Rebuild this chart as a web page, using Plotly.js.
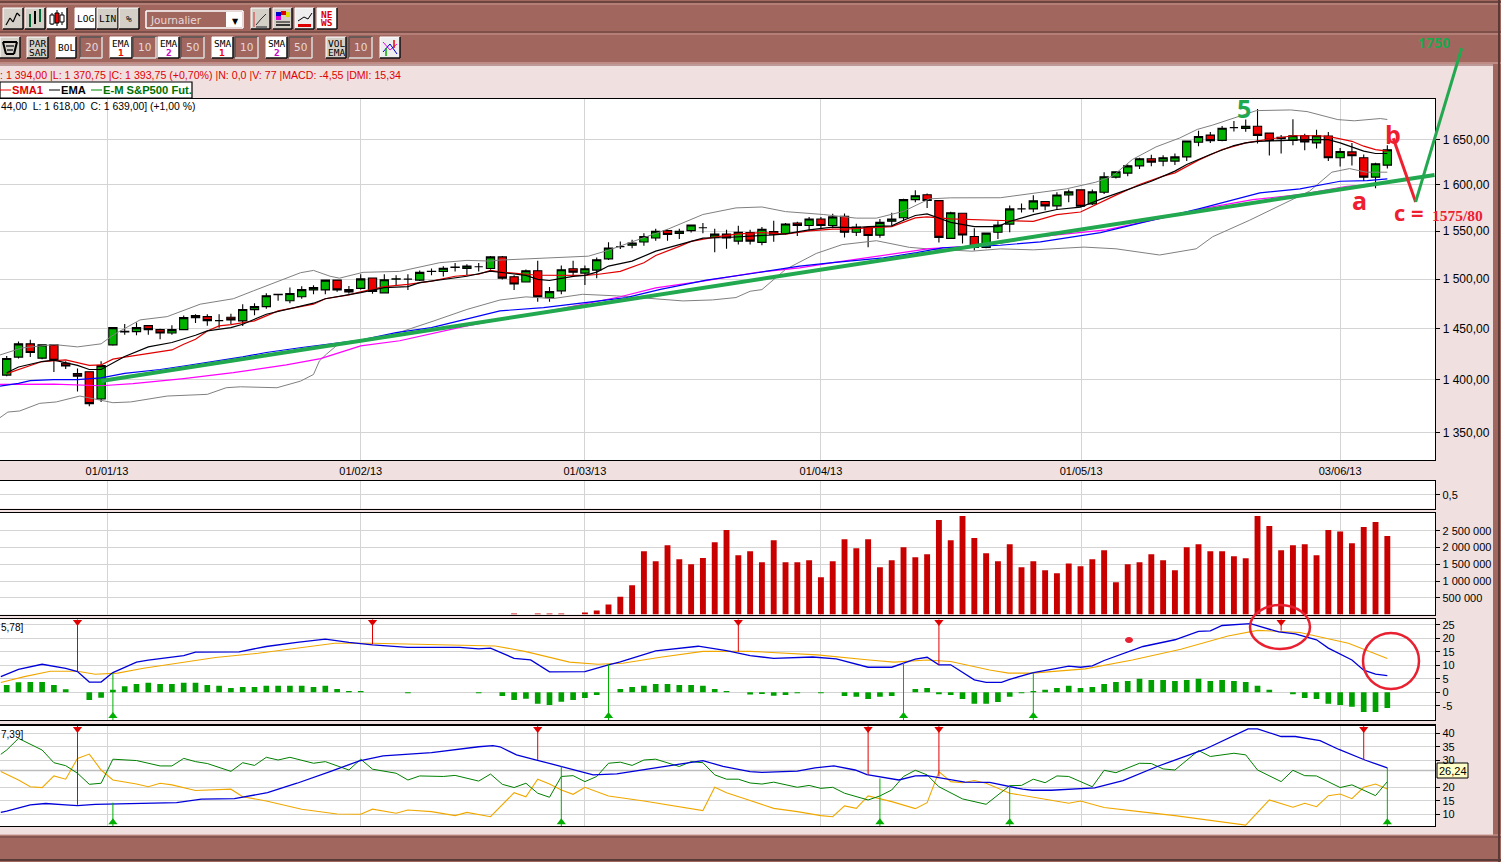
<!DOCTYPE html>
<html><head><meta charset="utf-8">
<script src="https://cdn.plot.ly/plotly-3.0.1.min.js"></script>
<style>html,body{margin:0;padding:0;background:#F0E0E0;overflow:hidden}#c{width:1501px;height:862px}</style>
</head><body><div id="c"></div>
<script>
// ---------- price data ----------
const opens=[1404.6,1422,1435,1421,1434,1416,1406,1407.8,1381.8,1434,1447.3,1447,1453,1449,1445.7,1449,1463,1462,1458,1461.4,1457.7,1469,1472,1484.5,1478,1482,1489,1489,1499,1489.3,1490.5,1501.2,1486,1500,1500,1499,1508,1507.8,1512.4,1511,1512.8,1511,1523,1502.4,1497,1508.6,1481,1488,1510.7,1506.2,1509.3,1521,1533.8,1535.2,1538.6,1542.8,1550.7,1547.6,1550.7,1553.7,1543.5,1547,1539.6,1548.6,1538.2,1549.7,1547.6,1558.8,1556.2,1563.1,1556.2,1566,1549,1554,1545.9,1560.6,1564.4,1584,1589.3,1582.9,1542.5,1569.3,1544.5,1533,1549,1557.6,1574,1573.9,1581.9,1577.2,1589,1594.6,1579.3,1592,1608.5,1613,1621,1628.9,1626.3,1626.3,1631,1647.4,1655.5,1649.6,1664,1663,1665.5,1657.8,1653,1649.6,1654.8,1646.7,1654.4,1630,1636.6,1630,1608.5,1621.8];
const highs=[1423,1437.3,1439,1434,1434,1418,1411,1408,1418,1451,1454.5,1456,1453,1450,1453.4,1463,1464.4,1464.4,1464.4,1464.8,1474.5,1475.5,1485.6,1484.6,1491.4,1492.7,1493.7,1499,1499,1493,1505,1501.2,1505,1504,1505,1509,1511,1513.4,1516.7,1515.5,1516.7,1524,1524,1504,1510,1519,1492,1514,1519,1514,1522.4,1538.3,1539.3,1541,1548,1552.6,1552,1552.6,1557.3,1558.8,1552.6,1551.5,1555.8,1551.5,1554.4,1561.3,1558.8,1560,1565.3,1565.3,1568.6,1569,1558,1555,1563,1569.7,1585,1594.1,1590.7,1582.9,1570.8,1569.3,1553.3,1548,1560.6,1577.5,1579.8,1588.8,1582,1592,1595,1594.6,1595,1614,1615,1622.5,1630,1633.4,1632.7,1634.8,1649,1660.4,1658.9,1666,1671.5,1673.3,1685.5,1658.5,1655.5,1673.7,1657,1661.5,1658.9,1641,1646.7,1633.7,1624.4,1644];
const lows=[1403.6,1420.6,1422,1420,1407.5,1410.5,1389,1375,1379,1433,1444,1443.5,1444,1439.5,1444,1448.6,1455.5,1453,1451,1454.4,1452.7,1463.4,1470,1478,1475.5,1480,1484.6,1484.6,1487,1485,1489.5,1485,1486,1493,1489,1498,1504,1502.7,1507.8,1504,1507.8,1510,1499.7,1489,1497,1477,1477,1484.5,1502.4,1494,1501,1519.7,1531.4,1532,1534.8,1540,1540,1541.7,1548.6,1548,1528,1531.5,1535.9,1535.9,1535.2,1539,1546.5,1545,1550.4,1552.2,1553.3,1543.5,1545,1533,1543,1555.8,1561,1581,1574.8,1538,1542.5,1537,1529.6,1532,1541.7,1549,1570,1570.3,1572.4,1572.8,1581,1576,1578,1590.2,1607,1609.6,1617.4,1620.7,1620.7,1622,1626.3,1643,1646.7,1648.5,1659.6,1659.3,1646,1632.6,1634.8,1644,1638.5,1640.4,1626.3,1620.4,1621.5,1604.4,1596.3,1618];
const closes=[1420.6,1435,1426.5,1434,1419,1413.4,1403.6,1377.4,1413.7,1451,1446.7,1451,1449,1445.7,1449,1461,1460.8,1458,1458,1458.7,1469.2,1472,1483,1484,1485.3,1489.3,1491.4,1499,1489,1487,1500.3,1487.4,1499.3,1500.3,1500,1507,1507.8,1511.2,1512,1513.4,1512.8,1523,1501,1495,1508.6,1482,1487.2,1509.7,1507.2,1510.7,1520,1532.4,1533.8,1537.6,1544.5,1550,1546.5,1550,1556.6,1553.7,1547,1542.8,1549,1539.6,1552.2,1547,1557.7,1556.2,1563.1,1556.2,1565.3,1549,1554.4,1545.5,1559.5,1563,1584,1588.2,1583,1543.5,1569.7,1546,1533,1548,1556.6,1573.9,1574,1582.6,1577.2,1589,1592.4,1576.8,1592.4,1608.9,1614.4,1621,1628.9,1625.2,1630,1631,1648.9,1654,1649.3,1663.3,1664,1665.5,1655.2,1649.6,1651.5,1654.8,1647.8,1654.8,1630,1637,1632.2,1608.5,1623.3,1639];
const candleIdx=opens.map((_,i)=>i);

// moving averages
const emaX=[0,1,3,4,6,7,8,9,10,12,14,16,17,19,20,22,24,26,27,29,30,32,34,35,37,39,41,42,43,44,45,46,47,48,49,50,51,53,55,56,58,59,61,63,65,66,68,70,72,73,75,76,77,78,80,82,84,85,87,89,91,93,95,97,99,100,102,104,105,106,108,110,112,113,115,116,117];
const emaY=[1406.9,1412.4,1417.7,1419,1414,1410,1410,1416.7,1422.6,1432,1436.3,1443.5,1447.7,1451,1454.4,1464.4,1470,1475.5,1480,1484,1486.3,1491.3,1492.3,1496.4,1499.7,1503,1508.3,1506.6,1505.5,1503.8,1499.7,1498.6,1500.7,1502.8,1503.8,1507.2,1513.5,1518.6,1529,1532.4,1539.3,1542.8,1543.4,1544.5,1546.2,1547.2,1551.4,1554.4,1554,1555,1555.8,1561.7,1566.8,1568.6,1559.5,1555,1555,1560.5,1567.8,1573.3,1575.8,1585.9,1594.9,1604,1615.2,1622.6,1633.7,1643.7,1646.7,1648.5,1649.3,1650.4,1650.4,1646.7,1637.4,1634.8,1634.8];
const sma1X=[0,1,3,5,6,7,8,9,10,12,14,15,16,17,18,19,21,23,25,26,27,29,30,32,34,36,38,40,41,42,45,47,49,50,52,54,55,57,58,60,62,64,66,68,70,71,73,75,77,78,80,83,85,87,89,91,92,94,96,98,99,101,103,105,107,109,111,112,114,115,116,117];
const sma1Y=[1406,1410,1417.7,1419.3,1416.7,1414,1414.4,1420,1422,1425.8,1429,1434.6,1439.5,1447.7,1452.7,1454,1457.7,1467.8,1472,1474.5,1480,1484,1487,1492.3,1494.7,1498,1503,1505,1509,1507.2,1504,1504,1503.8,1504.8,1508,1517,1524.5,1534,1539.3,1543.8,1547.2,1548.6,1547,1550.4,1552.2,1552.2,1554,1555,1564.2,1565.3,1563.1,1562.4,1561.2,1560.5,1567.8,1570.6,1576.8,1588.8,1600.4,1609.6,1613.3,1627.4,1639.2,1646.7,1651,1654.8,1654.8,1654,1648.5,1643,1639.2,1637.4];
const ema2X=[-0.6,0,1,2,4,6,8,10,13,15,20,22,25,30,33,36,40,41.8,45.5,49,52.5,55.4,59.3,63.6,67.2,70,74.3,77.1,79.3,84.2,87.6,92.7,97.7,101.1,106.2,109.6,113,115.3,117];
const ema2Y=[1394,1395.1,1396.7,1399.3,1400.3,1400.3,1402,1406.2,1410,1413.4,1422.2,1426.5,1431.4,1438.6,1446,1451,1462.8,1467.8,1471,1476.2,1481.2,1489.6,1499,1506.6,1513.5,1517,1522,1527.4,1532.4,1535.2,1538.8,1548.6,1563.4,1574.3,1591.3,1595.6,1604,1604.8,1606.7];
const sma2X=[-0.6,4,8,10.7,15,19.2,23.7,26.6,30,33.3,39,41.8,47,52,55,59,63.6,67.2,70,74,78.2,83,87.3,93.2,97.7,101.7,105.6,109.6,113.6,114.5,117];
const sma2Y=[1395.7,1396,1394.4,1396.4,1401.3,1406.9,1414.4,1420.6,1433,1438,1452.7,1459,1470,1482,1491,1498,1507,1511.7,1517,1524,1531.6,1535,1544,1551.4,1563.4,1575,1584,1589.5,1598.5,1599.3,1602.2];
const bolUpX=[-0.6,1.3,4,6,8,9.1,11.3,13.6,16.4,19.2,20.9,24.9,26,27.4,28.2,30.2,33.3,36.7,39,41,41.8,45.3,49.3,51,53.8,56.1,59,61.8,64,66,69.2,72,73.7,76,78.2,80,84.2,89.8,92.3,93.7,95.4,97.4,99.4,100.9,102.2,104,105.9,108.8,110.2,112.8,114.2,116.4,117];
const bolUpY=[1424,1431,1434.3,1432,1435,1444.3,1458.7,1462,1474.5,1480,1488,1506.6,1509,1503,1501,1507,1508,1517,1519.4,1518.7,1519.7,1521.4,1523.8,1530,1542.7,1552.6,1567.9,1575,1576,1571,1567.9,1564,1564,1571.3,1584.8,1585.9,1586,1595.7,1603,1609.6,1628.1,1642.2,1652.2,1662,1666.9,1675.4,1683.5,1684.3,1682.4,1673.2,1671.8,1674.4,1673.3];
const bolLoX=[-0.6,0.1,1.1,2.8,4.2,6.2,7.9,9,10.5,13.6,17,18.6,19.8,22.9,24.9,26,26.5,27.1,28,32.5,36.2,39,41.8,44,46.3,48.8,51.7,54.5,57.3,59.8,61.8,63,64,66,68.6,70.8,73.7,76.5,78.2,81.8,84.2,87,91.3,94,97.7,100.8,102.2,105.3,108.1,110.4,112.3,113.8,115.2,117];
const bolLoY=[1364,1369.5,1370.5,1377.7,1379,1384.6,1380.8,1378.3,1379,1384.6,1386.2,1392.5,1393.4,1392.5,1398.8,1405.2,1418.3,1424.9,1433.7,1443.3,1457.7,1469.2,1478.7,1481.9,1480.2,1484.5,1482.9,1480.5,1477.8,1478.8,1481.2,1487.6,1489.3,1510,1526.6,1535.9,1540,1533,1531.3,1529,1531.4,1530.4,1533.3,1531.5,1525,1531.5,1544.2,1561.6,1578.6,1593.1,1614,1618,1614,1614];

// hand-drawn annotation lines
const trendX=[8,121]; const trendY=[1399,1611];
const waveCX=[117.5,119.4]; const waveCY=[1652,1581.5];
const waveUpX=[119.4,123.3]; const waveUpY=[1581.5,1757];

// volume
const volume=[0,0,0,0,0,0,0,0,0,0,0,0,0,0,0,0,0,0,0,0,0,0,0,0,0,0,0,0,0,0,0,0,0,0,0,0,0,0,0,0,0,0,0,30000,0,30000,30000,30000,0,60000,120000,300000,530000,870000,1890000,1590000,2070000,1650000,1500000,1690000,2160000,2520000,1770000,1890000,1560000,2220000,1560000,1560000,1620000,1110000,1590000,2250000,1980000,2250000,1410000,1620000,2010000,1710000,1800000,2820000,2220000,2940000,2280000,1830000,1590000,2100000,1410000,1590000,1320000,1230000,1520000,1440000,1650000,1920000,960000,1500000,1560000,1800000,1620000,1320000,2010000,2100000,1890000,1890000,1740000,1680000,2940000,2640000,1920000,2070000,2100000,1770000,2520000,2480000,2130000,2610000,2760000,2340000];

// MACD
const macdHist=[2.7,3.7,3.8,3.8,2.7,1.1,0,-2.85,-2,.9,2.2,3.1,3.5,3.1,3.1,3.5,3.5,2.7,2.4,1.6,2,2,2.4,2.4,2.4,2.4,2,2.4,1.2,.5,.5,0,0,0,-.4,0,0,0,0,0,-.4,0,-1.4,-2.85,-2.4,-4.3,-4.7,-3.5,-2.85,-2.1,-1,0,1.2,2,2.4,3.1,3.1,2.7,2.7,2.4,1.2,.5,0,-.8,-.6,-1.3,-1,-.4,0,-.4,0,-1.4,-1.7,-2.5,-1.7,-1.4,0,1.2,1.6,-.7,-1,-2.5,-4.3,-4.3,-3.6,-1.7,-.4,.5,.9,1.6,2.4,1.6,2,3.1,3.8,4.2,5,4.6,4.6,4.2,4.6,5,4.2,4.6,4.2,3.8,2.4,.9,0,-.7,-2.1,-2.5,-4.3,-4.7,-5.4,-7.3,-7.3,-5.8];
const macdX=[-0.5,1,3,5,6,7,8,9,11,12,15,16,19.7,22,24.6,27,29,31,34,38.4,40,41,43,44.4,46,49,51,52,55,58.6,61,63,65,68.3,70.3,73,75,76,77,78,79,80,82,83,84.3,85,87,89,90,91,92,93,95,96.3,99,101,102,103,105.4,107.8,109.2,111,112,114,115,116,117];
const macdY=[5.8,8.5,10.4,8.9,7.7,3.8,3.8,7.3,11.2,11.9,13.6,14.9,15,17,18.5,19.7,18.5,17.6,16.7,16.7,16.1,16.4,12.6,12,7.6,7.7,10.2,11.3,15.4,17.1,15.5,13.6,12.6,13.1,12.4,9.3,9.3,10.8,12.3,13,10.2,10.2,4.6,3.7,3.7,4.8,7.3,8.9,9.7,9.3,9.8,11.8,14.9,17,19.5,22.6,22.8,24.8,25.5,22.4,21.7,19.5,16.4,12,8.2,6.7,6.2];
const signalX=[-0.5,1.5,3.7,6,7.5,9.4,11.6,15,17.7,21.3,24.6,27.8,31,38.4,41.4,44,47.7,50.1,52.2,55.4,59,63,68.7,73.1,75.2,78,80,83.3,84.9,86.9,91.4,95.4,99.5,103.5,106,109.6,113.7,117];
const signalY=[3.6,5.8,7.8,7.8,6.7,7.1,8.9,11.2,12.9,14.5,16.4,18.2,18.2,17.5,17.2,15.1,11.2,10.4,10.8,13,15.2,15.2,13.9,12,11.2,12,11.4,8.3,7.1,7.1,8.7,12,16,20.9,23,22.2,18.2,12.5];
const macdSellX=[6,31,62,79,108]; const macdSellY=[7.7,17.8,15.1,10.2,22.9];
const macdBuyX=[9,51,76,87]; const macdBuyY=[7.1,10.4,11,7.3];

// DMI
const adxX=[-0.5,0,2,3.3,5,6,7.5,11.6,14.4,16.5,19.3,22.1,24.6,27.4,29.9,31.9,36,40,41.2,41.8,43.2,44.9,46.9,49.7,51.7,56.2,59,60.7,63,64,67,68.5,70.1,71.9,72.9,75.6,77,78,79.2,81.2,83.3,86.1,86.9,88.5,92.2,94.6,97.5,101.5,105.2,106,108,109.2,111.3,112.9,115.1,117];
const adxY=[10.7,11.2,13.5,14,13.5,13.2,13.7,14.1,14.3,15.6,15.8,18,21.5,25.8,29.8,31.6,32.8,35,35.4,35,32,30.1,27.7,24.6,25,27.9,29.9,27.7,25.8,25.5,26,27.2,27.9,26.4,24.7,22.7,24.2,24.3,23.3,21.9,21.8,19.3,18.9,18.9,19.8,22.5,27.7,34,41.6,41.6,38.8,38.8,37.3,34,30.1,27.2];
const diPlusX=[-0.5,0,1,3,4,5,6,7,8,9,11,13,14,15,16,17,19,20,21,22,23,24,26,27,29,30,31,32,33,34,35,37,38,40,41,42,43,44,45,46,47,48,49,50,51,52,53,54,55,57,58,59,60,61,62,63,64,65,67,68,69,70,71,73,74,75,76,77,78,79,81,83,85,86,87,88,89,90,92,93,94,96,97,98,99,101,102,104,105,106,108,109,110,111,113,114,116,117];
const diPlusY=[32.2,33.8,38.1,33.8,29.1,28,25.2,21.1,21.5,30.4,29.9,27.9,27.9,30.7,29.5,28.8,25.9,29.1,28.1,31.1,30.1,31.1,28.9,29.5,26.4,30.4,26.7,26,25.2,22.7,24.2,24,24.4,22.3,24.9,21.1,19.9,21.5,17.8,16.3,24,24.3,22.1,24,28.9,29.3,28.1,30.1,30.4,27.7,29.5,29.1,24.6,23,23,21.6,21.2,21.9,20,20.7,19.6,20,17.8,15.3,16.8,19,24,26.3,24.6,20.2,15.7,13.7,20.6,20.7,23,21.7,24.2,24,20.2,26.3,25.4,28.9,28.8,26.8,26.4,33.6,31.4,32.6,32,26.4,22.1,26.3,24.3,24.2,19.9,20.9,16.9,22.1];
const diMinusX=[-0.5,1,2,3,4,5,6,7,8,9,11,12,13,14,16,19,20,22,25,28,30,31,33,34,36,38,39,41,43,44,45,46,47,48,49,51,54,57,59,60,61,63,65,67,69,70,71,72,73,75,77,78,79,80,81,82,83,85,87,90,91,93,96,99,105,107,109,110,111,112,113,114,115,116,117];
const diMinusY=[25.8,22.7,20.2,19.9,24.2,23,30.7,32.3,26.4,22.7,21.2,20.2,21.5,20.9,18.8,19.3,16.5,14.9,11.9,10.1,10,11.9,10.4,11.6,11,9.5,10.7,9.1,18,16.5,23,21.2,19,17.4,20,16.8,14.9,12.8,11.4,20,18,15.1,12.2,11,9.5,9.1,13.1,12.2,16.8,14.7,12.1,14.3,25.8,22.1,21.7,22.5,21.5,17.8,16.3,14.1,14.9,12.5,11,9.5,6,15.3,12.6,14.1,12.8,16.9,17.5,15.8,20,21.2,19.4];
const dmiSellX=[6,45,73,79,115]; const dmiSellY=[13.5,30.1,24.7,24,30.1];
const dmiBuyX=[9,47,74,85,117]; const dmiBuyY=[14.3,27.7,23.3,20.6,27.2];

// axes text
const dateTickVals=[8.5,30,49,69,91.05,113];
const dateTickText=['01/01/13','01/02/13','01/03/13','01/04/13','01/05/13','03/06/13'];
const priceTicks=[1350,1400,1450,1500,1550,1600,1650];
const priceLabels=['1 350,00','1 400,00','1 450,00','1 500,00','1 550,00','1 600,00','1 650,00'];
const volTicks=[500000,1000000,1500000,2000000,2500000];
const volLabels=['500 000','1 000 000','1 500 000','2 000 000','2 500 000'];
const macdTicks=[-5,0,5,10,15,20,25];
const dmiTicks=[10,15,20,30,35,40];

// ---------- layout helpers ----------
const W=1501,H=862;
const XR=[-0.568,121.04];
const PLOT_R=1435/W;
const PRICE_LOG=[3.12230,3.22967];
const px=x=>x/W, py=y=>1-y/H;
const dom=(t,b)=>[py(b),py(t)];
const shapes=[],ann=[];
function rect(x0,y0,x1,y1,fill,line,lw){shapes.push({type:'rect',xref:'paper',yref:'paper',x0:px(x0),x1:px(x1),y0:py(y0),y1:py(y1),fillcolor:fill,line:{color:line||fill,width:lw===undefined?0:lw},layer:'below'});}
function seg(x0,y0,x1,y1,c,w,layer){shapes.push({type:'line',xref:'paper',yref:'paper',x0:px(x0),x1:px(x1),y0:py(y0),y1:py(y1),line:{color:c,width:w||1},layer:layer||'below'});}
function poly(p,c,w){for(let i=0;i<p.length-1;i++)seg(p[i][0],p[i][1],p[i+1][0],p[i+1][1],c,w);}
function txt(x,y,t,size,color,anchor,fam,bold){ann.push({xref:'paper',yref:'paper',x:px(x),y:py(y),text:bold?'<b>'+t+'</b>':t,showarrow:false,xanchor:anchor||'left',yanchor:'middle',font:{size:size,color:color,family:fam||'Liberation Sans'},borderpad:0,borderwidth:0});}
function ellipse(cx,cy,rx,ry,c,w,fill){shapes.push({type:'circle',xref:'paper',yref:'paper',x0:px(cx-rx),x1:px(cx+rx),y0:py(cy+ry),y1:py(cy-ry),line:{color:c,width:w},fillcolor:fill||'rgba(0,0,0,0)',layer:'above'});}
const BROWN='#A1675F',PINK='#F0E0E0',BTN='#D4D0C8',MONO='DejaVu Sans Mono';
function btn(x0,y0,x1,y1,fill,label,sub,subc){
  rect(x0,y0,x1,y1,fill,'#000',0);
  seg(x0,y0,x1,y0,'#fff',1);seg(x0,y0,x0,y1,'#fff',1);
  seg(x1,y0,x1,y1,'#111',1.5);seg(x0,y1,x1,y1,'#111',1.5);
  if(label&&sub){txt((x0+x1)/2,y0+6.5,label,9.5,'#000','center',MONO);txt((x0+x1)/2,y0+15.5,sub,9.5,subc||'#000','center',MONO,!!subc);}
  else if(label)txt((x0+x1)/2,(y0+y1)/2,label,9.5,'#000','center',MONO);
}
function field(x0,y0,x1,y1,label){
  rect(x0,y0,x1,y1,BROWN,'#000',0);
  seg(x0,y0,x1,y0,'#555',1.5);seg(x0,y0,x0,y1,'#555',1.5);seg(x1,y0,x1,y1,'#ddd',1.5);seg(x0,y1,x1,y1,'#ddd',1.5);
  txt((x0+x1)/2,(y0+y1)/2,label,10.5,'#E8D8D8','center','DejaVu Sans');
}
// window chrome
rect(0,0,W,64,BROWN);
rect(1493,64,W,H,BROWN);
rect(0,835,W,H,BROWN);
seg(0,2,W,2,'#5a3a36',1.5);seg(0,4,W,4,'#C89890',1);
seg(0,32,W,32,'#5a3a36',1);seg(0,34,W,34,'#C89890',1);
seg(0,63,W,63,'#C89890',1.5);seg(0,65,1493,65,'#8a5550',1);
seg(0,835,W,835,'#C89890',1);seg(0,837,W,837,'#6a4440',1);
seg(0,860,W,860,'#5a3a36',2);seg(1499,0,1499,H,'#5a3a36',2);
// row 1 buttons
btn(3,8,23,29,BTN);poly([[6,25],[10,18],[13,22],[17,13],[20,16]],'#000',1.2);
btn(25,8,45,29,BTN);poly([[30,14],[30,27]],'#063',2);poly([[35,11],[35,24]],'#000',2);poly([[40,9],[40,22]],'#063',2);
btn(47,8,67,29,'#fff');poly([[52,13],[52,25]],'#000',1);rect(50,15,54,24,'#fff','#000',1);poly([[57,10],[57,26]],'#000',1);rect(55,13,59,23,'#e00','#000',1);poly([[62,12],[62,25]],'#000',1);rect(60,15,64,22,'#fff','#000',1);
btn(75,8,96,29,'#fff','LOG');btn(97,8,118,29,BTN,'LIN');btn(119,8,139,29,BTN,'%');
rect(146,11,243,28,BROWN);seg(146,11,243,11,'#fff',1.5);seg(146,11,146,28,'#fff',1.5);seg(243,11,243,28,'#fff',1.5);seg(146,28,243,28,'#fff',1.5);
rect(226,12,242,27,'#fff');
txt(150,20,'Journalier',10.5,'#E8D8D8','left','DejaVu Sans');
txt(235,21,'▼',8,'#000','center','DejaVu Sans');
btn(251,8,270,29,BTN);poly([[254,12],[254,27]],'#c33',1);poly([[256,25],[261,19],[266,14]],'#333',1);poly([[256,27],[267,27]],'#777',2);
btn(273,8,292,29,BTN);rect(276,12,281,16,'#00c');rect(281,11,286,15,'#d00');rect(286,12,290,17,'#dd0');rect(276,16,281,20,'#d0d');seg(276,22,290,22,'#000',1);seg(276,25,290,25,'#000',1.5);
btn(295,8,314,29,'#eee');poly([[298,21],[304,17],[308,19],[312,13]],'#000',1);rect(298,24,311,27,'#d00');
btn(317,8,337,29,'#fff');txt(327,14,'NE',9.5,'#d00','center',MONO,true);txt(327,23,'WS',9.5,'#d00','center',MONO,true);
// row 2 buttons
btn(0,37,20,58,BTN);poly([[3,42],[17,42],[14,54],[6,54],[3,42]],'#000',2);poly([[6,46],[14,46]],'#555',2);poly([[7,50],[13,50]],'#555',2);
btn(27,37,48,58,BTN,'PAR','SAR');
btn(56,37,76,58,'#fff','BOL');field(80,37,102,58,'20');
btn(110,37,132,58,'#fff','EMA','1','#e00');field(133,37,156,58,'10');
btn(158,37,179,58,'#fff','EMA','2','#c0c');field(181,37,204,58,'50');
btn(212,37,233,58,'#fff','SMA','1','#e00');field(235,37,258,58,'10');
btn(266,37,287,58,'#fff','SMA','2','#c0c');field(289,37,312,58,'50');
btn(326,37,346,58,BTN,'VOL','EMA');field(349,37,372,58,'10');
btn(380,37,400,58,'#eee');poly([[383,42],[390,50],[397,44]],'#e0e',1);poly([[383,52],[390,44],[397,54]],'#00c',1);poly([[394,40],[394,48]],'#e00',1.5);poly([[386,48],[386,56]],'#0a0',1.5);
// info rows
txt(0,75,': 1 394,00 |L: 1 370,75 |C: 1 393,75 (+0,70%) |N: 0,0 |V: 77 |MACD: -4,55 |DMI: 15,34',10.6,'#E00000','left','Liberation Sans');
rect(0,82,192,98,'#fff','#000',1.2);
seg(0,90,11,90,'#e00',1,'above');
txt(12,90,'SMA1',11.2,'#E00000','left','Liberation Sans',true);
seg(49,90,60,90,'#000',1,'above');
txt(61,90,'EMA',11.2,'#000','left','Liberation Sans',true);
seg(91,90,102,90,'#080',1,'above');
txt(103,90,'E-M S&P500 Fut.',11.2,'#007000','left','Liberation Sans',true);
txt(1,107,'44,00  L: 1 618,00  C: 1 639,00] (+1,00 %)',10.4,'#000','left','Liberation Sans');
txt(0.5,627,'5,78]',10,'#000','left','Liberation Sans');
txt(0.5,734,'7,39]',10,'#000','left','Liberation Sans');
// hand annotations
txt(1244,108,'5',25,'#22A84F','center','Open Sans',true);
txt(1393,134,'b',25,'#EE2030','center','Open Sans',true);
txt(1359,200,'a',25,'#EE2030','center','Open Sans',true);
txt(1409,212,'c =',22,'#EE2030','center','Open Sans',true);
txt(1457.5,215,'1575/80',15.5,'#EE2030','center','Liberation Serif',true);
txt(1434,43,'1750',14,'#22A84F','center','Open Sans',true);
ellipse(1280,627,30,22,'#E82030',2.5);
ellipse(1391,661,28,28,'#E82030',2.5);
ellipse(1129,640,3.5,2.5,'#E82030',1,'#E82030');
// rally leg leaves the plot frame, so it is placed through the price scale by hand
const toPaperX=v=>(v-XR[0])/(XR[1]-XR[0])*PLOT_R;
const toPaperY=v=>{const d=dom(99,460);return d[0]+(Math.log10(v)-PRICE_LOG[0])/(PRICE_LOG[1]-PRICE_LOG[0])*(d[1]-d[0]);};
shapes.push({type:'line',xref:'paper',yref:'paper',x0:toPaperX(waveUpX[0]),x1:toPaperX(waveUpX[1]),y0:toPaperY(waveUpY[0]),y1:toPaperY(waveUpY[1]),line:{color:'#22A84F',width:3},layer:'above'});
// value flag
rect(1437,763,1468,778,'#FFFFC8','#000',1);
txt(1452.5,770.5,'26,24',11,'#000','center','Liberation Sans');

// ---------- traces ----------
const L=(x,y,c,w,ya,xa,extra)=>Object.assign({type:'scatter',mode:'lines',x,y,line:{color:c,width:w},xaxis:xa||'x',yaxis:ya||'y'},extra||{});
const stems=(xs,ys,edge)=>{const X=[],Y=[];xs.forEach((v,i)=>{X.push(v,v,null);Y.push(ys[i],edge,null);});return [X,Y];};
const arrows=(xs,ys,top,bot,mTop,mBot,ya,xa,dir)=>{
  const [sx,sy]=stems(xs,ys,dir>0?top:bot);
  const c=dir>0?'#E00000':'#00B000';
  return [L(sx,sy,c,1,ya,xa),
    {type:'scatter',mode:'markers',x:xs,y:xs.map(()=>dir>0?mTop:mBot),xaxis:xa,yaxis:ya,marker:{symbol:dir>0?'triangle-down':'triangle-up',size:8,color:c,line:{width:0}}}];
};
const data=[
  L(bolUpX,bolUpY,'#808080',1),
  L(bolLoX,bolLoY,'#808080',1),
  {type:'candlestick',x:candleIdx,open:opens,high:highs,low:lows,close:closes,xaxis:'x',yaxis:'y',whiskerwidth:0,
   increasing:{line:{color:'#000',width:1.1},fillcolor:'#00B400'},decreasing:{line:{color:'#000',width:1.1},fillcolor:'#EE0000'}},
  L(sma2X,sma2Y,'#FF00FF',1.2),
  L(ema2X,ema2Y,'#0000FF',1.2),
  L(sma1X,sma1Y,'#E00000',1.2),
  L(emaX,emaY,'#000000',1.2),
  L(trendX,trendY,'#22A84F',4),
  L(waveCX,waveCY,'#EE2030',3,'y','x',{cliponaxis:false}),
  {type:'bar',x:candleIdx,y:volume,xaxis:'x3',yaxis:'y3',width:0.5,marker:{color:'#C80000',line:{width:0}}},
  {type:'bar',x:candleIdx,y:macdHist,xaxis:'x4',yaxis:'y4',width:0.48,marker:{color:'#00A000',line:{width:0}}},
  L(signalX,signalY,'#F0A800',1.1,'y4','x4'),
  L(macdX,macdY,'#0000D8',1.3,'y4','x4'),
  ...arrows(macdSellX,macdSellY,27.1,-10.3,26.1,-8.8,'y4','x4',1),
  ...arrows(macdBuyX,macdBuyY,27.1,-10.3,26.1,-8.8,'y4','x4',-1),
  L([-0.57,121.04],[26.24,26.24],'#BDBDBD',1.5,'y5','x5'),
  L(diMinusX,diMinusY,'#F0A800',1.1,'y5','x5'),
  L(diPlusX,diPlusY,'#008000',1,'y5','x5'),
  L(adxX,adxY,'#0000D8',1.3,'y5','x5'),
  ...arrows(dmiSellX,dmiSellY,42.8,5.67,41.6,7.1,'y5','x5',1),
  ...arrows(dmiBuyX,dmiBuyY,42.8,5.67,41.6,7.1,'y5','x5',-1)
];
const GRID='#D4D4D4';
const xa=(anchor,labels)=>({type:'linear',range:XR,domain:[0,PLOT_R],anchor,tickmode:'array',tickvals:dateTickVals,ticktext:dateTickText,showticklabels:!!labels,ticks:'',gridcolor:GRID,gridwidth:1,showline:true,linecolor:'#000',linewidth:1.3,mirror:true,zeroline:false,tickfont:{family:'Liberation Sans',size:11,color:'#000'},rangeslider:{visible:false},fixedrange:true});
const ya=(anchor,d,range,ticks,labels,extra)=>Object.assign({domain:d,anchor,side:'right',range,tickmode:'array',tickvals:ticks,ticktext:labels,ticks:'outside',ticklen:4,tickcolor:'#000',gridcolor:GRID,gridwidth:1,showline:true,linecolor:'#000',linewidth:1.3,mirror:true,zeroline:false,tickfont:{family:'Liberation Sans',size:12,color:'#000'},fixedrange:true},extra||{});
const layout={
  width:W,height:H,margin:{l:0,r:0,t:0,b:0,pad:0},paper_bgcolor:PINK,plot_bgcolor:'#fff',showlegend:false,hovermode:false,boxgap:0.3,boxgroupgap:0,bargap:0.5,
  xaxis:xa('y',true),
  xaxis2:xa('y2'),xaxis3:xa('y3'),xaxis4:xa('y4'),xaxis5:xa('y5'),
  yaxis:ya('x',dom(99,460),PRICE_LOG,priceTicks,priceLabels,{type:'log'}),
  yaxis2:ya('x2',dom(481,508.5),[0,1],[0.5],['0,5'],{tickfont:{family:'Liberation Sans',size:11,color:'#000'}}),
  yaxis3:ya('x3',dom(513,614.5),[0,3030000],volTicks,volLabels,{tickfont:{family:'Liberation Sans',size:11,color:'#000'}}),
  yaxis4:ya('x4',dom(619.3,720),[-10.3,27.1],macdTicks,macdTicks.map(String),{tickfont:{family:'Liberation Sans',size:11,color:'#000'}}),
  yaxis5:ya('x5',dom(725.7,826),[5.67,42.8],dmiTicks,dmiTicks.map(String),{tickfont:{family:'Liberation Sans',size:11,color:'#000'}}),
  shapes,annotations:ann
};
Plotly.newPlot('c',data.concat([{type:'scatter',mode:'markers',x:[0],y:[0.5],xaxis:'x2',yaxis:'y2',marker:{opacity:0}}]),layout,{displayModeBar:false,staticPlot:true});
</script></body></html>
